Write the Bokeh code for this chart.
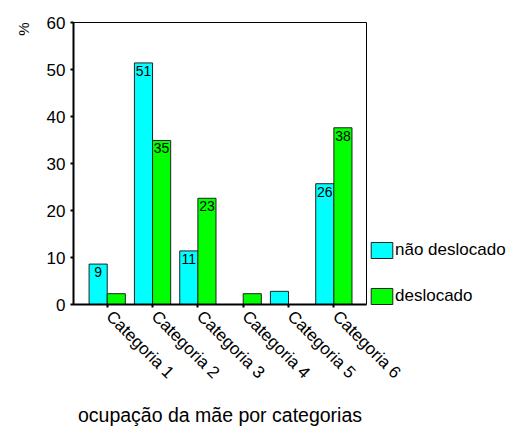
import math
from bokeh.plotting import figure
from bokeh.models import (ColumnDataSource, Range1d, FixedTicker, LabelSet,
                          Legend, LegendItem, Title, LinearAxis)
from bokeh.core.properties import value
from bokeh.transform import dodge
from bokeh.embed import file_html
from bokeh.resources import INLINE

categories = ["Categoria 1", "Categoria 2", "Categoria 3",
              "Categoria 4", "Categoria 5", "Categoria 6"]
nao_deslocado = [8.6, 51.4, 11.4, 0.0, 2.8, 25.7]
deslocado = [2.3, 34.9, 22.6, 2.3, 0.0, 37.6]
nao_labels = ["9", "51", "11", "", "", "26"]
des_labels = ["", "35", "23", "", "", "38"]
series_names = ["não deslocado", "deslocado"]
y_ticks = [0, 10, 20, 30, 40, 50, 60]

FONT = "Liberation Sans"
CYAN = "#00ffff"
GREEN = "#00ff00"

xs = list(range(len(categories)))
src = ColumnDataSource(dict(x=xs, nao=nao_deslocado, des=deslocado,
                            nao_lbl=nao_labels, des_lbl=des_labels))

p = figure(frame_width=293, frame_height=282, output_backend="svg", toolbar_location=None,
           x_range=Range1d(-0.744, 5.72), y_range=Range1d(0, 60),
           min_border_left=68, min_border_right=150,
           min_border_top=22, min_border_bottom=124)
p.background_fill_color = "white"
p.border_fill_color = "white"
p.outline_line_color = "black"
p.outline_line_width = 1
p.xgrid.visible = False
p.ygrid.visible = False

r1 = p.vbar(x=dodge("x", -0.2, range=p.x_range), top="nao", width=0.4, source=src,
            fill_color=CYAN, line_color="#222222", line_width=1)
r2 = p.vbar(x=dodge("x", 0.2, range=p.x_range), top="des", width=0.4, source=src,
            fill_color=GREEN, line_color="#222222", line_width=1)

for col, lbl, off in (("nao", "nao_lbl", -0.2), ("des", "des_lbl", 0.2)):
    ls = LabelSet(x=dodge("x", off, range=p.x_range), y=col, text=lbl, source=src,
                  text_align="center", text_baseline="top", y_offset=-3,
                  text_font=value(FONT), text_font_size="14px", text_color="black")
    p.add_layout(ls)

# main x axis: tick marks only
p.xaxis.ticker = FixedTicker(ticks=xs)
p.xaxis.major_label_overrides = {i: "" for i in xs}
p.xaxis.major_label_text_font_size = "1px"
p.xaxis.minor_tick_line_color = None
p.xaxis.major_tick_in = 0
p.xaxis.major_tick_out = 3
p.xaxis.major_tick_line_width = 2
p.xaxis.axis_line_width = 2
p.xaxis.major_label_standoff = 0

# label axis (labels start slightly right of each tick, as in the reference)
lab_ticks = [round(x + 0.04, 2) for x in xs]
lab_axis = LinearAxis(ticker=FixedTicker(ticks=lab_ticks),
                      major_label_overrides={t: c for t, c in zip(lab_ticks, categories)})
lab_axis.major_label_orientation = -math.pi / 4
lab_axis.axis_line_color = None
lab_axis.major_tick_line_color = None
lab_axis.minor_tick_line_color = None
lab_axis.major_tick_in = 0
lab_axis.major_tick_out = 0
lab_axis.major_label_text_font = FONT
lab_axis.major_label_text_font_size = "17px"
lab_axis.major_label_text_color = "black"
lab_axis.major_label_standoff = 6
lab_axis.axis_label = "ocupação da mãe por categorias"
lab_axis.axis_label_text_font = FONT
lab_axis.axis_label_text_font_size = "19.5px"
lab_axis.axis_label_text_font_style = "normal"
lab_axis.axis_label_text_color = "black"
lab_axis.axis_label_standoff = 12
p.add_layout(lab_axis, "below")

p.yaxis.ticker = FixedTicker(ticks=y_ticks)
p.yaxis.minor_tick_line_color = None
p.yaxis.major_tick_in = 0
p.yaxis.major_tick_out = 3
p.yaxis.major_tick_line_width = 2
p.yaxis.axis_line_width = 2
p.yaxis.major_label_text_font = FONT
p.yaxis.major_label_text_font_size = "17px"
p.yaxis.major_label_text_color = "black"
p.yaxis.major_label_standoff = 5

pct = Title(text="%", align="right", offset=0, standoff=24, text_font=FONT,
            text_font_size="15px", text_font_style="normal", text_color="black")
p.add_layout(pct, "left")

legend = Legend(items=[LegendItem(label=series_names[0], renderers=[r1]),
                       LegendItem(label=series_names[1], renderers=[r2])],
                location=(2, -2), orientation="vertical",
                glyph_width=27, glyph_height=20, label_height=20, spacing=26,
                label_standoff=0, padding=0, margin=0,
                border_line_color=None, background_fill_alpha=0,
                label_text_font=FONT, label_text_font_size="17px",
                label_text_color="black")
p.add_layout(legend, "right")

open("out.html", "w").write(file_html(p, INLINE))
